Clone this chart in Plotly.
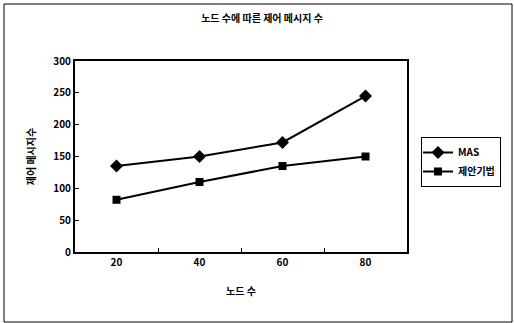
import plotly.graph_objects as go

nodes = [20, 40, 60, 80]
mas = [135, 150, 172, 245]
proposed = [82, 110, 135, 150]
y_ticks = [0, 50, 100, 150, 200, 250, 300]

title = "노드 수에 따른 제어 메시지 수"
x_title = "노드 수"
y_title = "제어 메시지수"
names = ["MAS", "제안기법"]

FONT = "Noto Sans CJK KR"
W, H = 514, 323
L, R, T, B = 75, 107, 61, 71
PW, PH = W - L - R, H - T - B

def bfont(size=10):
    return dict(family=FONT, size=size, color="black", weight="bold")

fig = go.Figure()
fig.add_trace(go.Scatter(x=nodes, y=mas, name=names[0], mode="lines+markers",
                         line=dict(color="black", width=2),
                         marker=dict(symbol="diamond", size=10, color="black")))
fig.add_trace(go.Scatter(x=nodes, y=proposed, name=names[1], mode="lines+markers",
                         line=dict(color="black", width=2),
                         marker=dict(symbol="square", size=8, color="black")))

fig.update_layout(
    width=W, height=H,
    margin=dict(l=L, r=R, t=T, b=B, autoexpand=False),
    paper_bgcolor="white", plot_bgcolor="white",
    font=bfont(10),
    title=dict(text=title, x=262 / W, xanchor="center",
               y=1 - 18 / H, yanchor="middle", font=bfont(10)),
    showlegend=True,
    legend=dict(x=421 / W, xanchor="left", y=1 - 137 / H, yanchor="top",
                xref="container", yref="container",
                bordercolor="black", borderwidth=1, bgcolor="white",
                font=bfont(10), tracegroupgap=0, itemwidth=30,
                indentation=-4),
    shapes=[dict(type="rect", xref="paper", yref="paper",
                 x0=-(L - 4) / PW, x1=(512 - L) / PW,
                 y0=-(B - 1) / PH, y1=(PH + T - 4) / PH,
                 line=dict(color="black", width=1))],
)
fig.update_xaxes(range=[10, 90], tickvals=nodes,
                 ticks="", showgrid=False, zeroline=False,
                 showline=True, linecolor="black", linewidth=2, mirror=True,
                 minor=dict(tickvals=[30, 50, 70], ticks="inside", ticklen=4,
                            tickcolor="black", showgrid=False),
                 title=dict(text=x_title, font=bfont(10), standoff=20),
                 tickfont=bfont(10))
fig.update_yaxes(range=[0, 300], tickvals=y_ticks,
                 ticks="inside", ticklen=4, tickcolor="black",
                 showgrid=False, zeroline=False,
                 showline=True, linecolor="black", linewidth=2, mirror=True,
                 title=dict(text=y_title, font=bfont(10), standoff=16),
                 tickfont=bfont(10))

fig.write_html("out.html", config={"displayModeBar": False},
               post_script="document.body.style.margin='0';document.body.style.overflow='hidden';")
